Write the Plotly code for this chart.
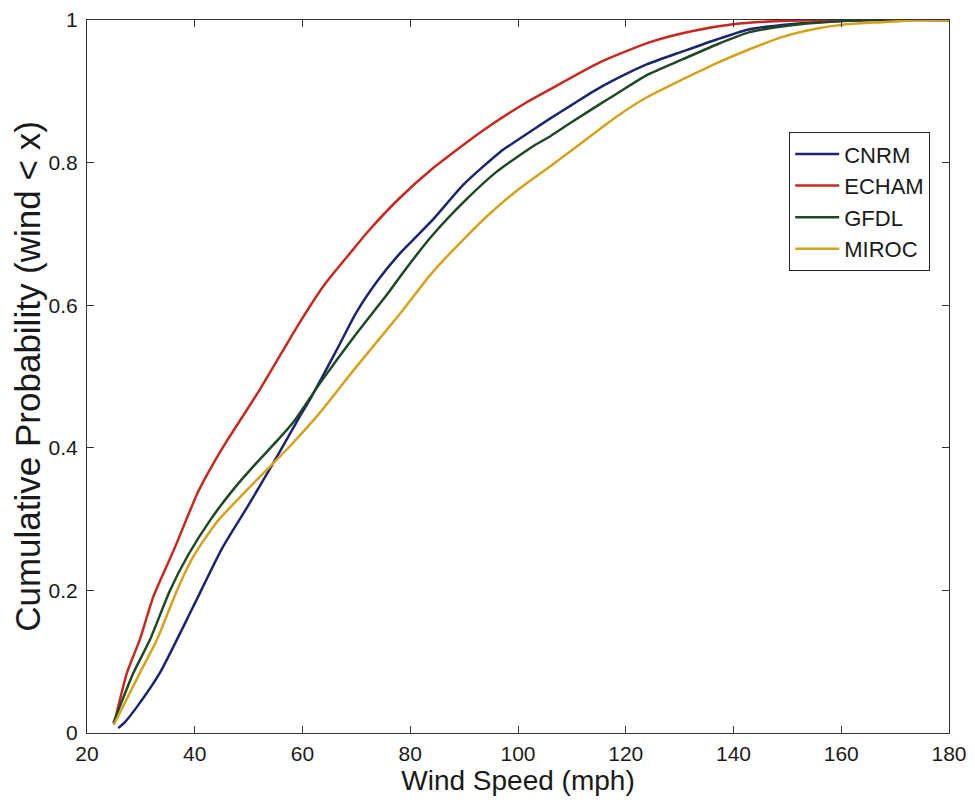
import plotly.graph_objects as go

# ---- data ----
cnrm_x = [25.8, 27.0, 29.3, 33.5, 39.7, 45.0, 50.0, 54.3, 59.5, 61.4, 66.4, 70.0, 74.0, 78.0, 84.2, 90.0, 96.7,
          100.0, 106.0, 110.0, 114.0, 118.4, 124.0, 130.6, 137.0, 143.0, 149.0, 155.5, 165.0, 180.0]
cnrm_y = [0.007, 0.015, 0.037, 0.084, 0.177, 0.258, 0.32, 0.375, 0.444, 0.468, 0.538, 0.59, 0.635, 0.672, 0.72, 0.77, 0.815,
          0.832, 0.862, 0.881, 0.9, 0.918, 0.938, 0.956, 0.973, 0.987, 0.993, 0.997, 1.0, 1.0]

echam_x = [25.0, 27.4, 29.8, 32.3, 36.3, 40.6, 43.6, 46.0, 52.1, 59.5, 64.0, 69.6, 72.0, 78.0, 84.2, 93.5,
           101.7, 106.0, 115.0, 124.5, 132.0, 139.9, 150.0, 160.0, 180.0]
echam_y = [0.012, 0.084, 0.131, 0.191, 0.26, 0.338, 0.38, 0.41, 0.482, 0.576, 0.628, 0.68, 0.702, 0.75, 0.792, 0.845,
           0.885, 0.903, 0.94, 0.969, 0.984, 0.994, 0.999, 1.0, 1.0]

gfdl_x = [24.9, 28.6, 31.7, 35.4, 38.8, 43.0, 47.1, 51.0, 55.3, 58.4, 63.2, 69.6, 76.0, 78.1, 84.0, 90.5,
          96.0, 102.8, 106.0, 110.0, 115.2, 118.4, 124.0, 130.6, 137.0, 143.0, 149.0, 155.5, 165.0, 180.0]
gfdl_y = [0.014, 0.084, 0.131, 0.2, 0.25, 0.3, 0.341, 0.375, 0.41, 0.437, 0.49, 0.556, 0.618, 0.64, 0.697, 0.749,
          0.787, 0.823, 0.837, 0.857, 0.882, 0.897, 0.923, 0.945, 0.966, 0.983, 0.991, 0.996, 1.0, 1.0]

miroc_x = [25.0, 29.8, 33.0, 36.7, 39.7, 44.0, 49.7, 54.0, 58.0, 63.2, 69.6, 78.1, 84.0, 90.5, 95.0, 100.0, 106.0,
           115.2, 118.4, 124.0, 130.6, 137.0, 143.0, 149.0, 155.5, 161.0, 167.7, 175.0, 180.0]
miroc_y = [0.012, 0.084, 0.131, 0.2, 0.247, 0.295, 0.341, 0.374, 0.405, 0.449, 0.51, 0.588, 0.645, 0.697, 0.73, 0.762, 0.795,
           0.847, 0.865, 0.892, 0.917, 0.94, 0.959, 0.976, 0.988, 0.994, 0.997, 1.0, 1.0]

series_names = ["CNRM", "ECHAM", "GFDL", "MIROC"]
series_colors = ["#1d2470", "#c8281e", "#1f4826", "#d6a21e"]

x_ticks = [20, 40, 60, 80, 100, 120, 140, 160, 180]
x_ticktext = ["20", "40", "60", "80", "100", "120", "140", "160", "180"]
y_ticks = [0, 0.2, 0.4, 0.6, 0.8, 1.0]
y_ticktext = ["0", "0.2", "0.4", "0.6", "0.8", "1"]

xs = [cnrm_x, echam_x, gfdl_x, miroc_x]
ys = [cnrm_y, echam_y, gfdl_y, miroc_y]

font_family = "Liberation Sans, Arial, Helvetica, sans-serif"

fig = go.Figure()
for name, color, x, y in zip(series_names, series_colors, xs, ys):
    fig.add_trace(go.Scatter(x=x, y=y, mode="lines", name=name,
                             line=dict(color=color, width=2.5, shape="spline", smoothing=0.6)))

axis_common = dict(showgrid=False, zeroline=False, showline=True, linecolor="#333333", linewidth=1.2,
                   mirror="ticks", ticks="inside", ticklen=7, tickwidth=1.2, tickcolor="#333333",
                   automargin=False,
                   tickfont=dict(family=font_family, size=21, color="#1a1a1a"))

# the page body has an 8px margin, so the figure is offset by 8px
fig.update_layout(
    width=967, height=797,
    margin=dict(l=79, r=26, t=12, b=72),
    paper_bgcolor="white", plot_bgcolor="white",
    font=dict(family=font_family, color="#1a1a1a"),
    xaxis=dict(range=[20, 180], tickvals=x_ticks, ticktext=x_ticktext, ticklabelstandoff=2,
               title=dict(text="Wind Speed (mph)", font=dict(size=28, family=font_family), standoff=5),
               **axis_common),
    yaxis=dict(range=[0, 1], tickvals=y_ticks, ticktext=y_ticktext, ticklabelstandoff=4,
               title=dict(text="Cumulative Probability (wind &lt; x)", font=dict(size=35, family=font_family), standoff=14),
               **axis_common),
    legend=dict(x=0.8144, y=0.843, xanchor="left", yanchor="top", bgcolor="white",
                bordercolor="#222222", borderwidth=1.2, font=dict(size=22, family=font_family),
                tracegroupgap=0, itemwidth=44),
    showlegend=True,
)

fig.write_html("out.html")
